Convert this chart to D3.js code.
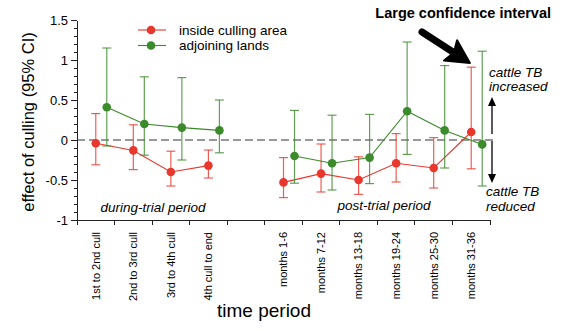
<!DOCTYPE html>
<html lang="en">
    <head>
        <meta charset="utf-8">
        <title>D3: Effect of culling</title>
        <script type="text/javascript" src="https://cdn.jsdelivr.net/npm/d3@7"></script>
        <style type="text/css">
            body {
                margin: 0;
                background: #fff;
            }
            text {
                font-family: "Liberation Sans", Arial, Helvetica, sans-serif;
                fill: #000;
            }
            .axis path, .axis line {
                stroke: #222;
                shape-rendering: crispEdges;
            }
        </style>
    </head>
    <body>
        <script type="text/javascript">

            //Time periods (a blank slot separates the two phases)
            var duringPeriods = ["1st to 2nd cull", "2nd to 3rd cull", "3rd to 4th cull", "4th cull to end"];
            var postPeriods = ["months 1-6", "months 7-12", "months 13-18", "months 19-24", "months 25-30", "months 31-36"];
            var periods = duringPeriods.concat(postPeriods);

            //Inside culling area: estimate and 95% CI
            var insideEst = [-0.04, -0.13, -0.40, -0.32, -0.53, -0.42, -0.50, -0.29, -0.35, 0.10];
            var insideLo  = [-0.31, -0.37, -0.575, -0.475, -0.72, -0.65, -0.68, -0.525, -0.60, -0.36];
            var insideHi  = [0.33, 0.19, -0.14, -0.125, -0.22, -0.05, -0.21, 0.08, 0.03, 0.91];

            //Adjoining lands: estimate and 95% CI
            var adjoinEst = [0.41, 0.20, 0.155, 0.12, -0.20, -0.29, -0.22, 0.36, 0.12, -0.055];
            var adjoinLo  = [-0.075, -0.19, -0.25, -0.16, -0.54, -0.625, -0.545, -0.18, -0.35, -0.575];
            var adjoinHi  = [1.15, 0.79, 0.78, 0.50, 0.37, 0.31, 0.32, 1.225, 0.93, 1.11];

            var yTicks = [-1, -0.5, 0, 0.5, 1, 1.5];
            var seriesNames = ["inside culling area", "adjoining lands"];

            var w = 565;
            var h = 331;
            var red = "#e8372c";
            var green = "#3b8a2b";

            var svg = d3.select("body")
                        .append("svg")
                        .attr("width", w)
                        .attr("height", h);

            var slots = duringPeriods.concat(["gap"], postPeriods);

            var x = d3.scaleBand()
                      .domain(slots)
                      .range([77, 490]);

            var y = d3.scaleLinear()
                      .domain([-1, 1.5])
                      .range([220, 20]);

            //Build rows for both series
            function rows(est, lo, hi, offset) {
                return periods.map(function(p, i) {
                    return {
                        period: p,
                        phase: i < duringPeriods.length ? 0 : 1,
                        x: x(p) + x.bandwidth() / 2 + offset,
                        est: est[i], lo: lo[i], hi: hi[i]
                    };
                });
            }

            var series = [
                { name: seriesNames[0], color: red, data: rows(insideEst, insideLo, insideHi, 0) },
                { name: seriesNames[1], color: green, data: rows(adjoinEst, adjoinLo, adjoinHi, 11) }
            ];

            //Y axis with minor ticks
            svg.append("g")
               .attr("class", "axis")
               .attr("transform", "translate(77,0)")
               .call(d3.axisLeft(y).tickValues(d3.range(-10, 16).map(function(d) { return d / 10; }))
                      .tickSize(3).tickFormat(""))
               .call(function(g) { g.select(".domain").remove(); });

            svg.append("g")
               .attr("class", "axis")
               .attr("transform", "translate(77,0)")
               .call(d3.axisLeft(y).tickValues(yTicks).tickSize(6).tickSizeOuter(0)
                      .tickFormat(function(d) { return String(d); }))
               .call(function(g) {
                   g.selectAll("text").style("font-size", "13px").attr("x", -9);
               });

            //X axis, ticks on band edges
            var xAxis = svg.append("g")
                           .attr("class", "axis")
                           .attr("transform", "translate(0,220)");

            xAxis.append("line")
                 .attr("x1", 77).attr("x2", 490)
                 .attr("y1", 0).attr("y2", 0);

            xAxis.selectAll("line.edge")
                 .data(slots.concat(["end"]))
                 .enter()
                 .append("line")
                 .attr("class", "edge")
                 .attr("x1", function(d, i) { return x.range()[0] + i * x.bandwidth(); })
                 .attr("x2", function(d, i) { return x.range()[0] + i * x.bandwidth(); })
                 .attr("y1", 0).attr("y2", 5);

            xAxis.selectAll("text")
                 .data(periods)
                 .enter()
                 .append("text")
                 .attr("transform", function(d) {
                     return "translate(" + (x(d) + x.bandwidth() / 2) + ",12) rotate(-90)";
                 })
                 .attr("text-anchor", "end")
                 .attr("dy", "0.35em")
                 .style("font-size", "11px")
                 .text(function(d) { return d; });

            //Axis titles
            svg.append("text")
               .attr("transform", "translate(34,122) rotate(-90)")
               .attr("text-anchor", "middle")
               .style("font-size", "16.5px")
               .text("effect of culling (95% CI)");

            svg.append("text")
               .attr("x", 264)
               .attr("y", 317)
               .attr("text-anchor", "middle")
               .style("font-size", "19px")
               .text("time period");

            //Zero reference line
            svg.append("line")
               .attr("x1", 77).attr("x2", 494)
               .attr("y1", y(0)).attr("y2", y(0))
               .style("stroke", "#333")
               .style("stroke-width", 1.2)
               .style("stroke-dasharray", "8,4");

            //Phase labels
            svg.append("text")
               .attr("x", 153).attr("y", 212)
               .attr("text-anchor", "middle")
               .style("font-size", "13.5px")
               .style("font-style", "italic")
               .text("during-trial period");

            svg.append("text")
               .attr("x", 384).attr("y", 210)
               .attr("text-anchor", "middle")
               .style("font-size", "13.5px")
               .style("font-style", "italic")
               .text("post-trial period");

            //Error bars, lines, points
            var line = d3.line()
                         .x(function(d) { return d.x; })
                         .y(function(d) { return y(d.est); });

            series.forEach(function(s) {
                var g = svg.append("g");

                var bars = g.selectAll("g.bar")
                            .data(s.data)
                            .enter()
                            .append("g")
                            .attr("class", "bar")
                            .style("stroke", s.color)
                            .style("stroke-opacity", 0.8)
                            .style("stroke-width", 1.2);

                bars.append("line")
                    .attr("x1", function(d) { return d.x; })
                    .attr("x2", function(d) { return d.x; })
                    .attr("y1", function(d) { return y(d.lo); })
                    .attr("y2", function(d) { return y(d.hi); });

                ["lo", "hi"].forEach(function(k) {
                    bars.append("line")
                        .attr("x1", function(d) { return d.x - 4.5; })
                        .attr("x2", function(d) { return d.x + 4.5; })
                        .attr("y1", function(d) { return y(d[k]); })
                        .attr("y2", function(d) { return y(d[k]); });
                });

                [0, 1].forEach(function(phase) {
                    g.append("path")
                     .datum(s.data.filter(function(d) { return d.phase === phase; }))
                     .attr("d", line)
                     .style("fill", "none")
                     .style("stroke", s.color)
                     .style("stroke-width", 1.1);
                });

                g.selectAll("circle")
                 .data(s.data)
                 .enter()
                 .append("circle")
                 .attr("cx", function(d) { return d.x; })
                 .attr("cy", function(d) { return y(d.est); })
                 .attr("r", 4.3)
                 .style("fill", s.color);
            });

            //Legend
            var legend = svg.selectAll("g.legend")
                            .data(series)
                            .enter()
                            .append("g")
                            .attr("class", "legend")
                            .attr("transform", function(d, i) { return "translate(138," + (30 + i * 15.5) + ")"; });

            legend.append("line")
                  .attr("x1", 0).attr("x2", 28)
                  .style("stroke", function(d) { return d.color; })
                  .style("stroke-width", 1.1);

            legend.append("circle")
                  .attr("cx", 13).attr("r", 4.3)
                  .style("fill", function(d) { return d.color; });

            legend.append("text")
                  .attr("x", 41)
                  .attr("dy", "0.35em")
                  .style("font-size", "13.5px")
                  .text(function(d) { return d.name; });

            //Annotation: large confidence interval
            svg.append("text")
               .attr("x", 551).attr("y", 18)
               .attr("text-anchor", "end")
               .style("font-size", "14.5px")
               .style("font-weight", "bold")
               .text("Large confidence interval");

            var big = svg.append("g")
                         .attr("transform", "translate(422,32) rotate(" + (Math.atan2(31, 48) * 180 / Math.PI) + ")");
            big.append("line")
               .attr("x1", 0).attr("x2", 40)
               .style("stroke", "#000")
               .style("stroke-width", 7)
               .style("stroke-linecap", "round");
            big.append("path")
               .attr("d", "M57,0 L34,-12 L38,0 L34,12 Z")
               .style("fill", "#000")
               .style("stroke", "#000")
               .style("stroke-width", 2)
               .style("stroke-linejoin", "round");

            //Direction hints on the right
            var hint = svg.append("g").style("font-size", "13.5px").style("font-style", "italic");
            hint.append("text").attr("x", 489).attr("y", 77).text("cattle TB");
            hint.append("text").attr("x", 489).attr("y", 91).text("increased");
            hint.append("text").attr("x", 486).attr("y", 196).text("cattle TB");
            hint.append("text").attr("x", 486).attr("y", 211).text("reduced");

            [[134, 97], [141, 183]].forEach(function(seg) {
                var dir = seg[1] < seg[0] ? -1 : 1;
                svg.append("line")
                   .attr("x1", 492).attr("x2", 492)
                   .attr("y1", seg[0]).attr("y2", seg[1] - dir * 7)
                   .style("stroke", "#000")
                   .style("stroke-width", 1.3);
                svg.append("path")
                   .attr("d", "M492," + seg[1] + " L488," + (seg[1] - dir * 9) + " L496," + (seg[1] - dir * 9) + " Z")
                   .style("fill", "#000");
            });

        </script>
    </body>
</html>
